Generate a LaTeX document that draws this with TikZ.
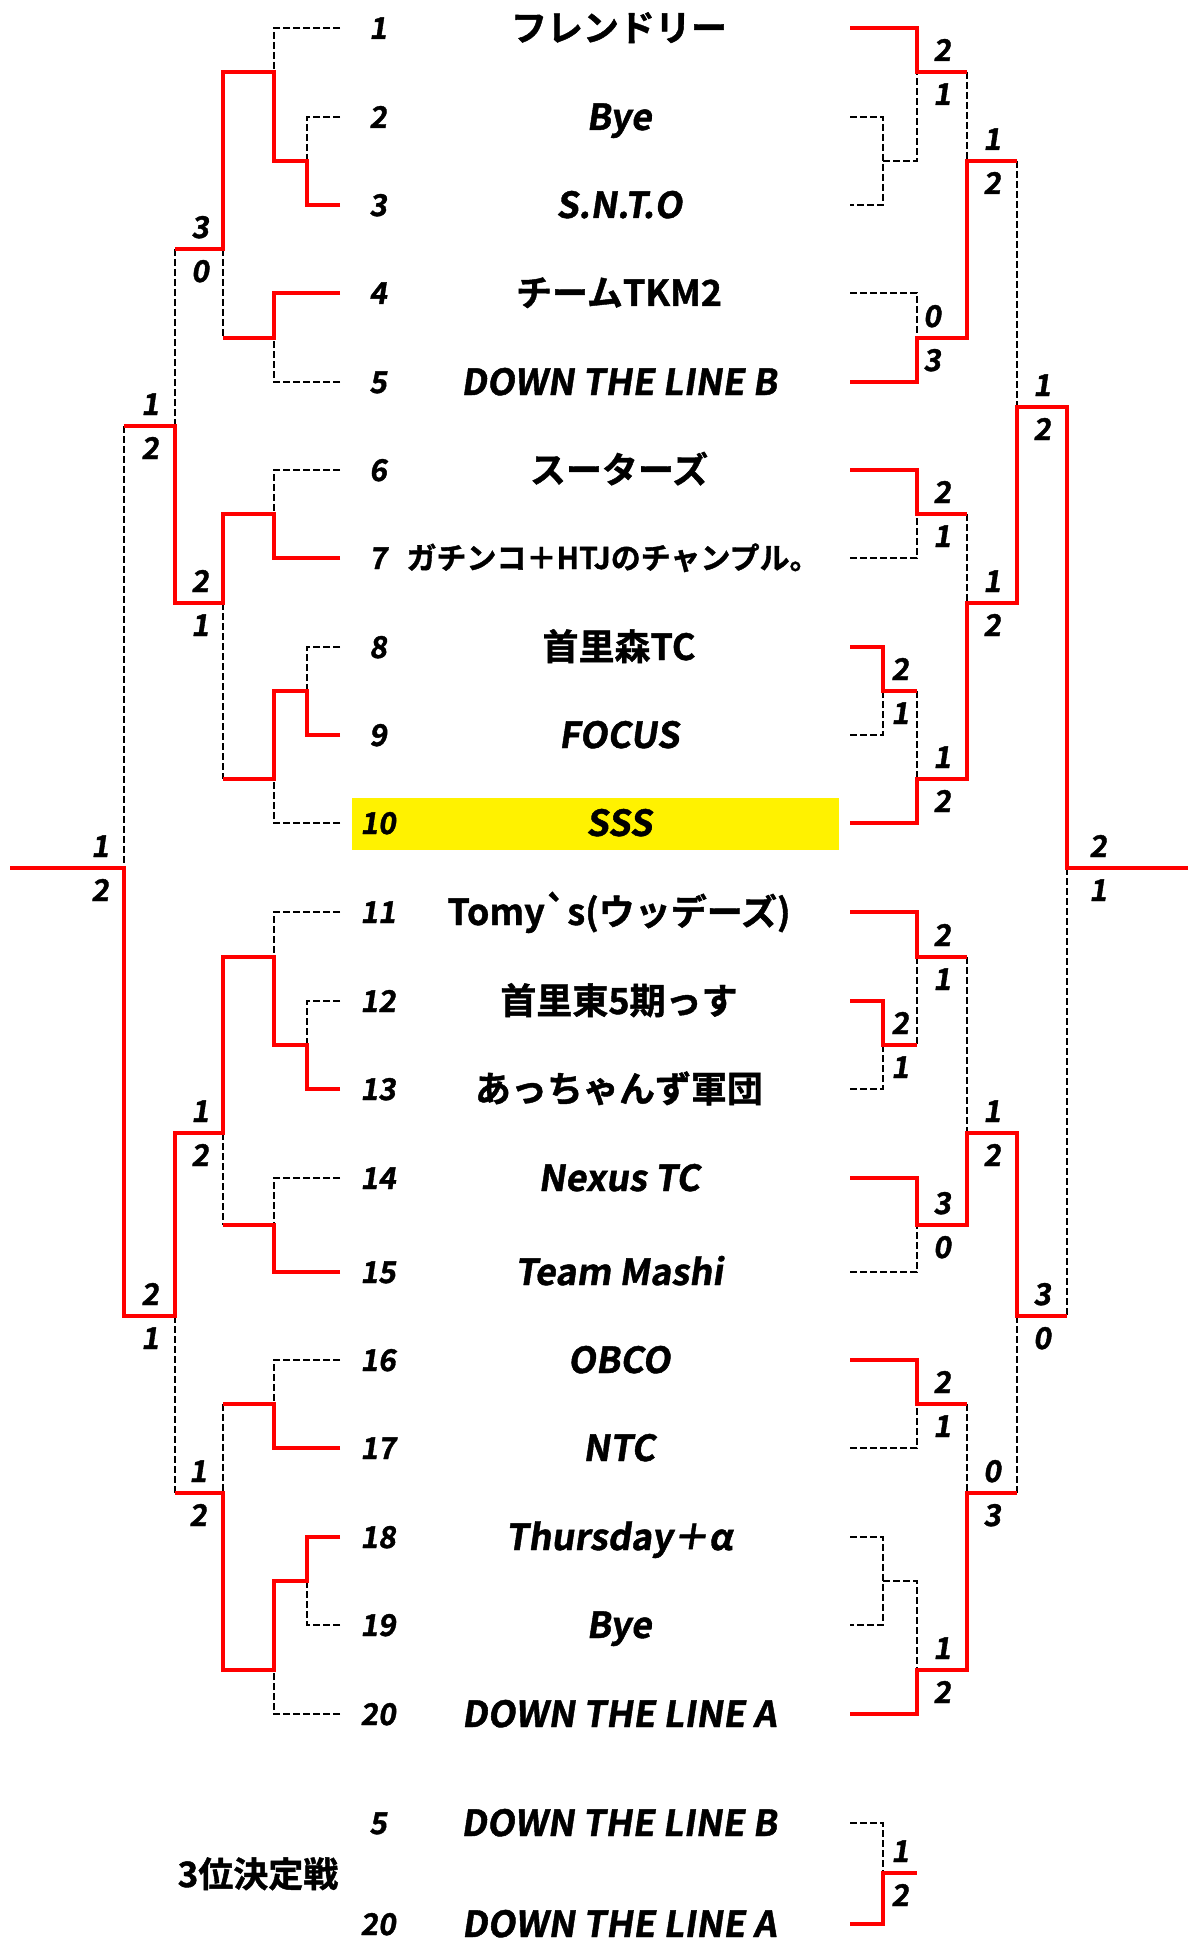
\documentclass[tikz,border=0pt]{standalone}
\usepackage{fontspec}
\newfontfamily\jp{Noto Sans CJK JP Bold}[FakeBold=1.2]
\newfontfamily\lat{Noto Sans CJK JP Bold}[FakeSlant=0.15,FakeBold=1.2]
\begin{document}
\begin{tikzpicture}[x=1pt,y=-1pt,
  win/.style={draw=red,line width=4pt,line join=miter},
  lose/.style={draw=black,line width=2pt,dash pattern=on 7pt off 3pt},
  num/.style={font=\lat\fontsize{30}{30}\selectfont,inner sep=0pt,anchor=base},
  sc/.style={font=\lat\fontsize{30}{30}\selectfont,inner sep=0pt,anchor=base},
  tj/.style={font=\jp\fontsize{36}{36}\selectfont,inner sep=0pt,anchor=base},
  tl/.style={font=\lat\fontsize{36}{36}\selectfont,inner sep=0pt,anchor=base}]
\useasboundingbox (0,0) rectangle (1188,1942);
\fill[white] (0,0) rectangle (1188,1942);
\fill[yellow] (352,798) rectangle (839,850);

% ---------- left: losers ----------
\draw[lose] (340,28) -- (274,28) -- (274,72);
\draw[lose] (340,117) -- (307,117) -- (307,161);
\draw[lose] (340,382) -- (274,382) -- (274,338);
\draw[lose] (223,249) -- (223,338);
\draw[lose] (175,249) -- (175,426);
\draw[lose] (340,470) -- (274,470) -- (274,514);
\draw[lose] (340,647) -- (307,647) -- (307,691);
\draw[lose] (340,823) -- (274,823) -- (274,779);
\draw[lose] (223,603) -- (223,779);
\draw[lose] (124,426) -- (124,868);
\draw[lose] (340,912) -- (274,912) -- (274,957);
\draw[lose] (340,1001) -- (307,1001) -- (307,1045);
\draw[lose] (340,1178) -- (274,1178) -- (274,1225);
\draw[lose] (223,1133) -- (223,1225);
\draw[lose] (175,1316) -- (175,1493);
\draw[lose] (340,1360) -- (274,1360) -- (274,1404);
\draw[lose] (223,1404) -- (223,1493);
\draw[lose] (340,1625) -- (307,1625) -- (307,1581);
\draw[lose] (340,1714) -- (274,1714) -- (274,1670);

% ---------- right: losers ----------
\draw[lose] (850,117) -- (883,117) -- (883,205) -- (850,205);
\draw[lose] (883,161) -- (917,161) -- (917,72);
\draw[lose] (850,293) -- (917,293) -- (917,338);
\draw[lose] (967,72) -- (967,161);
\draw[lose] (1017,161) -- (1017,407);
\draw[lose] (850,558) -- (917,558) -- (917,514);
\draw[lose] (850,735) -- (883,735) -- (883,691);
\draw[lose] (917,691) -- (917,779);
\draw[lose] (967,514) -- (967,603);
\draw[lose] (850,1089) -- (883,1089) -- (883,1045);
\draw[lose] (917,957) -- (917,1045);
\draw[lose] (850,1272) -- (917,1272) -- (917,1225);
\draw[lose] (967,957) -- (967,1133);
\draw[lose] (1067,868) -- (1067,1316);
\draw[lose] (850,1448) -- (917,1448) -- (917,1404);
\draw[lose] (850,1537) -- (883,1537) -- (883,1625) -- (850,1625);
\draw[lose] (883,1581) -- (917,1581) -- (917,1670);
\draw[lose] (967,1404) -- (967,1493);
\draw[lose] (1017,1316) -- (1017,1493);
\draw[lose] (850,1823) -- (883,1823) -- (883,1873);

% ---------- left: winners ----------
\draw[win] (340,205) -- (307,205) -- (307,161) -- (274,161) -- (274,72) -- (223,72) -- (223,249) -- (175,249);
\draw[win] (340,293) -- (274,293) -- (274,338) -- (223,338);
\draw[win] (340,558) -- (274,558) -- (274,514) -- (223,514) -- (223,603) -- (175,603) -- (175,426) -- (124,426);
\draw[win] (340,735) -- (307,735) -- (307,691) -- (274,691) -- (274,779) -- (223,779);
\draw[win] (340,1089) -- (307,1089) -- (307,1045) -- (274,1045) -- (274,957) -- (223,957) -- (223,1133) -- (175,1133) -- (175,1316) -- (124,1316) -- (124,868) -- (10,868);
\draw[win] (340,1272) -- (274,1272) -- (274,1225) -- (223,1225);
\draw[win] (340,1448) -- (274,1448) -- (274,1404) -- (223,1404);
\draw[win] (340,1537) -- (307,1537) -- (307,1581) -- (274,1581) -- (274,1670) -- (223,1670) -- (223,1493) -- (175,1493);

% ---------- right: winners ----------
\draw[win] (850,28) -- (917,28) -- (917,72) -- (967,72);
\draw[win] (850,382) -- (917,382) -- (917,338) -- (967,338) -- (967,161) -- (1017,161);
\draw[win] (850,470) -- (917,470) -- (917,514) -- (967,514);
\draw[win] (850,647) -- (883,647) -- (883,691) -- (917,691);
\draw[win] (850,823) -- (917,823) -- (917,779) -- (967,779) -- (967,603) -- (1017,603) -- (1017,407) -- (1067,407) -- (1067,868) -- (1188,868);
\draw[win] (850,912) -- (917,912) -- (917,957) -- (967,957);
\draw[win] (850,1001) -- (883,1001) -- (883,1045) -- (917,1045);
\draw[win] (850,1178) -- (917,1178) -- (917,1225) -- (967,1225) -- (967,1133) -- (1017,1133) -- (1017,1316) -- (1067,1316);
\draw[win] (850,1360) -- (917,1360) -- (917,1404) -- (967,1404);
\draw[win] (850,1714) -- (917,1714) -- (917,1670) -- (967,1670) -- (967,1493) -- (1017,1493);
\draw[win] (850,1924) -- (883,1924) -- (883,1873) -- (917,1873);

% ---------- scores ----------
\foreach \x/\m/\a/\b [count=\k] in {
  200/249/3/0, 150/426/1/2, 200/603/2/1, 100/868/1/2, 200/1133/1/2, 150/1316/2/1, 198/1493/1/2,
  942/72/2/1, 932/338/0/3, 992/161/1/2, 1042/407/1/2, 942/514/2/1, 900/691/2/1, 942/779/1/2,
  992/603/1/2, 1098/868/2/1, 942/957/2/1, 900/1045/2/1, 942/1225/3/0, 992/1133/1/2,
  1042/1316/3/0, 942/1404/2/1, 942/1670/1/2, 992/1493/0/3, 900/1873/1/2}{
  \node[sc] (sa\k) at (\x,\m-11) {\a};
  \node[sc] (sb\k) at (\x,\m+33) {\b};
}

% ---------- seed numbers ----------
\foreach \i/\y in {1/28,2/117,3/205,4/293,5/382,6/470,7/558,8/647,9/735,10/823,
  11/912,12/1001,13/1089,14/1178,15/1272,16/1360,17/1448,18/1537,19/1625,20/1714}{
  \node[num] (n\i) at (378,\y+11) {\i};
}
\node[num] (n5b) at (378,1834) {5};
\node[num] (n20b) at (378,1935) {20};

% ---------- team names ----------
\node[tj] (t1) at (619,41) {フレンドリー};
\node[tl] (t2) at (619,130) {Bye};
\node[tl] (t3) at (619,218) {S.N.T.O};
\node[tj] (t4) at (619,306) {チームTKM2};
\node[tl] (t5) at (619,395) {DOWN THE LINE B};
\node[tj] (t6) at (619,483) {スーターズ};
\node[font=\jp\fontsize{30}{30}\selectfont,inner sep=0pt,anchor=base] (t7) at (613,569) {ガチンコ＋HTJのチャンプル。};
\node[tj] (t8) at (619,660) {首里森TC};
\node[tl] (t9) at (619,748) {FOCUS};
\node[tl] (t10) at (619,836) {SSS};
\node[tj] (t11) at (619,925) {Tomy{\char"60}s(ウッデーズ)};
\node[tj] (t12) at (619,1014) {首里東5期っす};
\node[tj] (t13) at (619,1102) {あっちゃんず軍団};
\node[tl] (t14) at (619,1191) {Nexus TC};
\node[tl] (t15) at (619,1285) {Team Mashi};
\node[tl] (t16) at (619,1373) {OBCO};
\node[tl] (t17) at (619,1461) {NTC};
\node[tl] (t18) at (619,1550) {Thursday＋α};
\node[tl] (t19) at (619,1638) {Bye};
\node[tl] (t20) at (619,1727) {DOWN THE LINE A};
\node[tl] (t5b) at (619,1836) {DOWN THE LINE B};
\node[tl] (t20b) at (619,1937) {DOWN THE LINE A};
\node[font=\jp\fontsize{35}{35}\selectfont,inner sep=0pt,anchor=base] (third) at (258,1887) {3位決定戦};
\end{tikzpicture}
\end{document}
